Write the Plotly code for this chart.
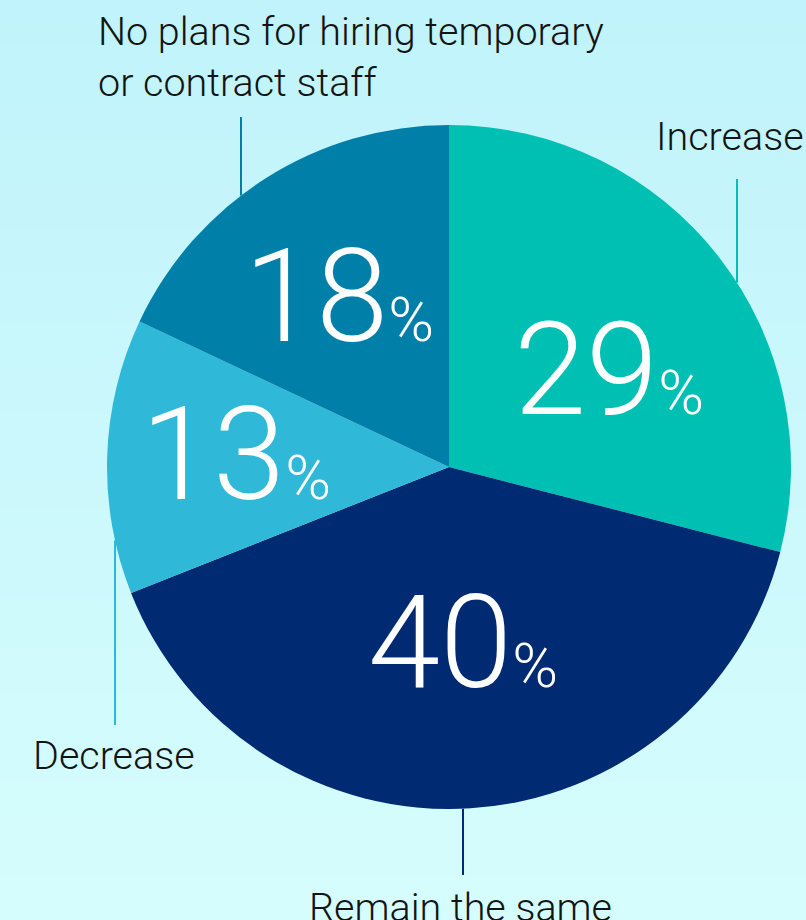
import plotly.graph_objects as go

# Survey: plans for temporary / contract staff
categories = ["Increase", "Remain the same", "Decrease",
              "No plans for hiring temporary<br>or contract staff"]
shares = [29, 40, 13, 18]
slice_colors = ["#00C0B4", "#002A72", "#30B8D8", "#0080A8"]

W, H = 806, 920
CX, CY, R = 449, 467, 342  # pie centre and radius in pixels

fig = go.Figure()

# soft vertical background gradient filling the whole page
fig.add_trace(go.Heatmap(
    z=[[0, 0], [1, 1]], x=[0, W], y=[0, H],
    colorscale=[[0, "#C0F3FB"], [1, "#D6FDFD"]],
    zsmooth="best", showscale=False, hoverinfo="skip",
))

fig.add_trace(go.Pie(
    labels=categories, values=shares, sort=False, direction="clockwise",
    rotation=0, marker=dict(colors=slice_colors, line=dict(width=0)),
    textinfo="none", hoverinfo="label+percent", showlegend=False,
    domain=dict(x=[(CX - R) / W, (CX + R) / W],
                y=[(H - CY - R) / H, (H - CY + R) / H]),
))

fig.update_xaxes(range=[0, W], visible=False, fixedrange=True)
fig.update_yaxes(range=[H, 0], visible=False, fixedrange=True)

# leader lines: (x, far end y, side of pie, colour)
leaders = [
    (737, 179, "top", slice_colors[0]),
    (463, 875, "bottom", slice_colors[1]),
    (115, 725, "bottom", slice_colors[2]),
    (241, 117, "top", slice_colors[3]),
]
for lx, ly, side, col in leaders:
    dy = (R ** 2 - (lx - CX) ** 2) ** 0.5
    edge = CY - dy if side == "top" else CY + dy
    fig.add_shape(type="line", x0=lx, x1=lx, y0=ly, y1=edge,
                  xref="x", yref="y", layer="above",
                  line=dict(color=col, width=2))

# category labels
label_font = dict(family="Roboto", size=39.5, color="#141414", weight=300)
label_pos = [
    (654, 136, "left", "middle"),
    (307, 907, "left", "middle"),
    (31, 755, "left", "middle"),
    (96, 57, "left", "middle"),
]
for text, (x, y, xa, ya) in zip(categories, label_pos):
    fig.add_annotation(x=x, y=y, xref="x", yref="y", text=text,
                       showarrow=False, xanchor=xa, yanchor=ya,
                       align="left", font=label_font)

# big percentage figures inside the slices
pct_pos = [(609, 369), (463, 642), (236, 454), (339, 296)]
for val, (x, y) in zip(shares, pct_pos):
    fig.add_annotation(
        x=x, y=y, xref="x", yref="y", showarrow=False,
        text=f"{val}<span style='font-size:62px'>%</span>",
        xanchor="center", yanchor="middle",
        font=dict(family="Roboto", size=130, color="white", weight=300),
    )

fig.update_layout(
    width=W, height=H, margin=dict(l=0, r=0, t=0, b=0),
    paper_bgcolor="#CCF8FB", plot_bgcolor="#CCF8FB",
)

fig.write_html("out.html")
